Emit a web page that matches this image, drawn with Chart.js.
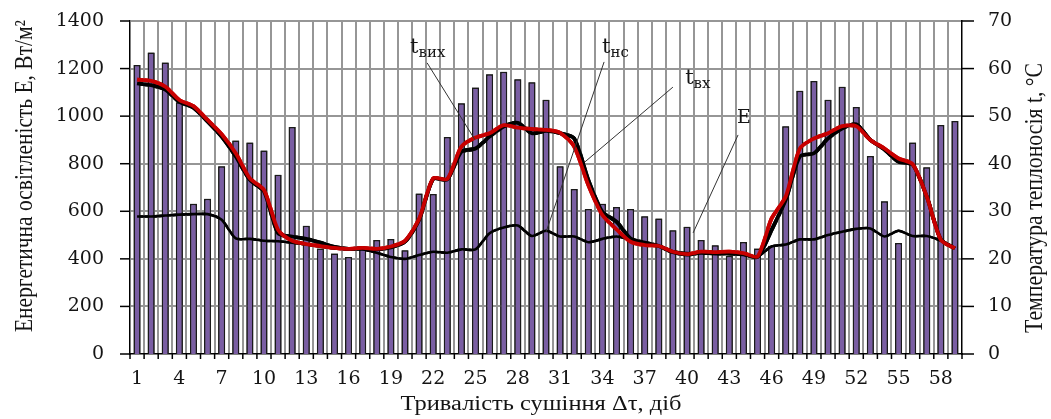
<!DOCTYPE html>
<html><head><meta charset="utf-8">
<script src="https://cdn.jsdelivr.net/npm/chart.js@4.4.0/dist/chart.umd.min.js"></script>
<style>html,body{margin:0;padding:0;background:#fff;overflow:hidden}canvas{display:block}</style>
</head><body>
<canvas id="c" width="1051" height="419"></canvas>
<script>
// ---- data ----
const days = [1,2,3,4,5,6,7,8,9,10,11,12,13,14,15,16,17,18,19,20,21,22,23,24,25,26,27,28,29,30,
  31,32,33,34,35,36,37,38,39,40,41,42,43,44,45,46,47,48,49,50,51,52,53,54,55,56,57,58,59];
const xTickDays = [1,4,7,10,13,16,19,22,25,28,31,34,37,40,43,46,49,52,55,58];
// E, W/m2
const irradiance = [1215,1268,1226,1058,632,653,789,898,889,856,754,954,539,444,422,408,450,479,483,436,
  675,673,912,1054,1120,1176,1187,1155,1142,1069,789,694,610,632,618,610,579,570,520,535,
  479,457,413,471,444,455,958,1107,1148,1069,1124,1038,832,642,467,889,785,963,980];
// t_вх (red)
const tIn = [57.7,57.4,56.2,53.4,52.1,49.2,46.2,42.2,36.9,34.5,26.1,23.8,23.1,22.7,22.3,22.1,22.3,22.1,22.6,23.8,
  28.4,36.9,36.8,43.6,45.5,46.4,48.1,47.6,47.3,47.1,46.5,43.6,35.5,29.2,26.2,23.6,22.9,22.7,21.5,21.0,
  21.5,21.4,21.5,21.2,20.5,28.5,33.1,43.2,45.3,46.4,47.9,47.9,45.0,43.2,41.1,39.9,33.1,24.0,22.2];
// t_вих (black, thick)
const tOut = [56.9,56.5,55.6,53.0,51.8,48.9,45.7,41.5,36.6,34.2,25.4,24.7,24.2,23.4,22.5,22.1,22.2,22.0,22.4,23.6,
  28.2,36.8,36.7,42.5,43.2,45.7,47.8,48.6,46.4,46.9,46.4,45.3,36.6,29.9,27.8,24.3,23.4,22.7,21.4,20.9,
  21.3,21.2,21.3,21.0,20.4,26.1,32.4,41.5,42.2,45.3,47.4,48.3,45.0,43.0,40.4,39.8,33.1,24.1,22.2];
// t_нс (black, lower)
const tNs = [28.9,28.9,29.1,29.3,29.4,29.4,28.2,24.3,24.2,23.8,23.7,23.4,23.0,22.6,22.2,22.0,22.0,21.3,20.4,20.0,
  20.8,21.5,21.3,22.0,22.0,25.4,26.6,27.0,24.8,25.9,24.7,24.7,23.5,24.2,24.7,24.0,23.3,22.7,21.6,21.2,
  21.2,21.0,21.0,20.8,20.5,22.6,23.0,24.1,24.1,25.0,25.7,26.3,26.4,24.7,25.9,24.8,24.8,23.8,22.2];

// annotation callouts (label and leader-line ends in data coordinates)
const callouts = [
  {main:'t', sub:'вих', axis:'y2', at:[20.36,63.3], from:[21.57,61.2], to:[24.97,45.0]},
  {main:'t', sub:'нс',  axis:'y2', at:[33.98,63.3], from:[34.12,61.4], to:[30.0,25.6]},
  {main:'t', sub:'вх',  axis:'y2', at:[39.87,56.8], from:[39.0,56.1], to:[32.77,40.4]},
  {main:'E', sub:'',    axis:'y',  at:[43.55,971], from:[43.62,921], to:[40.43,509]}
];

const TXT = '#141414';
const GRID = 'rgb(150,150,150)';

function drawStretched(ctx, text, cx, cy, rot, font, targetLen){
  ctx.save();
  ctx.font = font;
  const w = ctx.measureText(text).width;
  ctx.translate(cx, cy);
  ctx.rotate(rot);
  ctx.scale(targetLen / w, 1);
  ctx.textAlign = 'center';
  ctx.textBaseline = 'middle';
  ctx.fillStyle = TXT;
  ctx.fillText(text, 0, 0);
  ctx.restore();
}
function seg(ctx, x1, y1, x2, y2){ ctx.beginPath(); ctx.moveTo(x1, y1); ctx.lineTo(x2, y2); ctx.stroke(); }

function drawGrid(chart){
  // grid and tick marks placed from the chart's own scales (drawn as filled strips)
  const ctx = chart.ctx;
  const {x, y, y2} = chart.scales;
  const ca = chart.chartArea;
  ctx.save();
  ctx.globalCompositeOperation = 'source-over';
  ctx.globalAlpha = 1;
  ctx.fillStyle = GRID;
  y.ticks.forEach(t => {
    if (t.value > 0){ const py = Math.round(y.getPixelForValue(t.value)); ctx.fillRect(ca.left + 1, py - 1, ca.right - ca.left - 2, 2); }
  });
  for (let i = 1; i < days.length; i++){
    const px = Math.round(x.getPixelForValue(i - 0.5));
    ctx.fillRect(px - 1, ca.top, 2, ca.bottom - ca.top - 1);
  }
  ctx.strokeStyle = '#000';
  ctx.lineWidth = 1.5;
  y.ticks.forEach(t => { const py = y.getPixelForValue(t.value); seg(ctx, ca.left - 10, py, ca.left, py); });
  y2.ticks.forEach(t => { const py = y2.getPixelForValue(t.value); seg(ctx, ca.right, py, ca.right + 12, py); });
  for (let i = 0; i <= days.length; i++){
    const px = x.getPixelForValue(i - 0.5);
    seg(ctx, px, ca.bottom, px, ca.bottom + 5);
  }
  ctx.restore();
}

const overlay = {
  id: 'overlay',
  afterDraw(chart){
    const {ctx, scales, chartArea:ca} = chart;
    const x = scales.x;
    drawGrid(chart);
    const metas = chart.getSortedVisibleDatasetMetas();
    for (let i = metas.length - 1; i >= 0; i--){
      ctx.save();
      ctx.beginPath();
      ctx.rect(ca.left, ca.top - 3, ca.right - ca.left, ca.bottom - ca.top + 3);
      ctx.clip();
      metas[i].controller.draw();
      ctx.restore();
    }
    ctx.save();
    ctx.strokeStyle = '#333';
    ctx.lineWidth = 1;
    callouts.forEach(c => {
      const ys = scales[c.axis];
      seg(ctx, x.getPixelForValue(c.from[0]-1), ys.getPixelForValue(c.from[1]),
               x.getPixelForValue(c.to[0]-1), ys.getPixelForValue(c.to[1]));
    });
    ctx.restore();
    ctx.save();
    ctx.fillStyle = TXT;
    ctx.textAlign = 'left';
    ctx.textBaseline = 'alphabetic';
    callouts.forEach(c => {
      const ys = scales[c.axis];
      const lx = x.getPixelForValue(c.at[0]-1), ly = ys.getPixelForValue(c.at[1]);
      ctx.font = (c.sub ? '21px' : '19px') + ' "DejaVu Serif"';
      ctx.fillText(c.main, lx, ly);
      if (c.sub){
        const w = ctx.measureText(c.main).width;
        ctx.font = '15px "DejaVu Serif"';
        ctx.fillText(c.sub, lx + w, ly + 4);
      }
    });
    ctx.restore();
    drawStretched(ctx, 'Енергетична освітленість E, Вт/м²', 25, 176, -Math.PI/2, '25px "Liberation Serif"', 312);
    drawStretched(ctx, 'Температура теплоносія t, °C', 1035, 198, -Math.PI/2, '25px "Liberation Serif"', 270);
    drawStretched(ctx, 'Тривалість сушіння Δτ, діб', (ca.left + ca.right)/2 - 5, 405, 0, '20px "Liberation Serif"', 281);
  }
};

Chart.defaults.font.family = '"DejaVu Serif", serif';
Chart.defaults.font.size = 19;
Chart.defaults.color = TXT;

new Chart(document.getElementById('c'), {
  data: {
    labels: days,
    datasets: [
      {type:'line', label:'t_вх', data:tIn, yAxisID:'y2', borderColor:'#c80000', borderWidth:3.8,
        pointRadius:0, tension:0.25, fill:false, order:1},
      {type:'line', label:'t_вих', data:tOut, yAxisID:'y2', borderColor:'#000', borderWidth:3.8,
        pointRadius:0, tension:0.25, fill:false, order:2},
      {type:'line', label:'t_нс', data:tNs, yAxisID:'y2', borderColor:'#000', borderWidth:2.6,
        pointRadius:0, tension:0.25, fill:false, order:3},
      {type:'bar', label:'E', data:irradiance, yAxisID:'y', backgroundColor:'#7a5ea3',
        borderColor:'#1a1a1a', borderWidth:1.5, barPercentage:0.5, categoryPercentage:1, order:10}
    ]
  },
  options: {
    responsive:false, animation:false,
    layout:{padding:{top:21, left:0, right:0, bottom:0}},
    plugins:{legend:{display:false}, tooltip:{enabled:false}},
    scales:{
      x:{
        offset:true,
        grid:{display:false, drawTicks:true, tickLength:5},
        border:{display:true, color:'#000', width:1.5},
        ticks:{autoSkip:false, maxRotation:0, padding:9,
          callback:function(v, i){ const d = days[i]; return xTickDays.includes(d) ? String(d) : ''; }},
        afterFit:(s)=>{ s.height = 65; s.paddingLeft = 0; s.paddingRight = 0; }
      },
      y:{
        position:'left', min:0, max:1400,
        ticks:{stepSize:200, padding:16, callback:(v)=>String(v)},
        grid:{display:false, drawTicks:true, tickLength:10},
        border:{display:true, color:'#000', width:1.5},
        afterFit:(s)=>{ s.width = 130; s.paddingTop = 0; s.paddingBottom = 0; }
      },
      y2:{
        position:'right', min:0, max:70,
        ticks:{stepSize:10, padding:14, callback:(v)=>String(v)},
        grid:{display:false, drawTicks:true, tickLength:12},
        border:{display:true, color:'#000', width:1.5},
        afterFit:(s)=>{ s.width = 89; s.paddingTop = 0; s.paddingBottom = 0; }
      }
    }
  },
  plugins:[overlay]
});
</script>
</body></html>
